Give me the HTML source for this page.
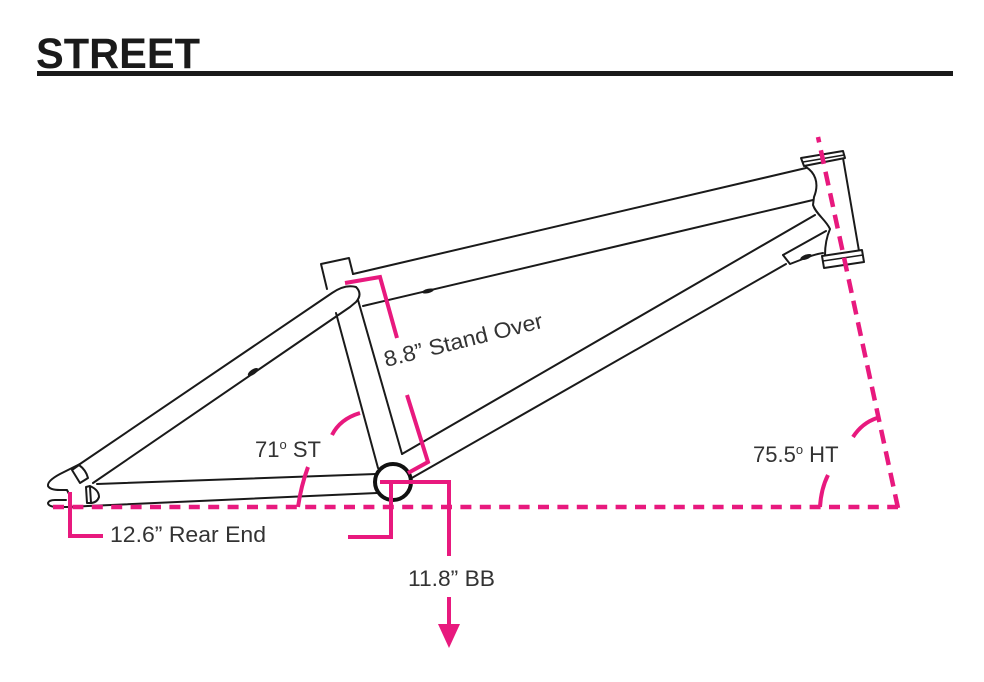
<!DOCTYPE html>
<html>
<head>
<meta charset="utf-8">
<style>
  html, body { margin: 0; padding: 0; background: #ffffff; }
  body { width: 984px; height: 682px; overflow: hidden; }
  svg { display: block; }
  text { font-family: "Liberation Sans", Arial, sans-serif; }
</style>
</head>
<body>
<svg width="984" height="682" viewBox="0 0 984 682" xmlns="http://www.w3.org/2000/svg">
  <rect x="0" y="0" width="984" height="682" fill="#ffffff"/>

  <!-- Title -->
  <text x="36" y="68" font-size="43" font-weight="bold" fill="#1a1a1a" textLength="164" lengthAdjust="spacingAndGlyphs">STREET</text>
  <rect x="37" y="71" width="916" height="5" fill="#1a1a1a"/>

  <!-- Frame (black) -->
  <g stroke="#1a1a1a" stroke-width="2" fill="none" stroke-linejoin="round" stroke-linecap="round">
    <!-- seat clamp box -->
    <path d="M 327 289 L 321 264 L 349 258 L 353 274"/>
    <!-- top tube -->
    <path d="M 353 274 L 806 168"/>
    <path d="M 363 306 L 813 200"/>
    <!-- seat stays -->
    <path d="M 77 466 L 332 293 Q 345 284 356 287 Q 363 294 356 302 L 350 307 L 93 483"/>
    <!-- seat tube -->
    <path d="M 336 313 L 378 468"/>
    <path d="M 358 300 L 402 454"/>
    <!-- down tube -->
    <path d="M 402 454 L 815 215"/>
    <path d="M 410 479 L 786 264"/>
    <!-- chain stays -->
    <path d="M 97 484 L 376 474"/>
    <path d="M 88 506 L 377 493"/>
    <!-- head tube edges -->
    <path d="M 806 167 C 814 172 820 182 814 197 L 813 205 C 816 214 826 220 830 229 C 827 236 825 245 825 255"/>
    <path d="M 843 158 L 859 251"/>
    <!-- gusset -->
    <path d="M 783 255 L 826 231"/>
    <path d="M 783 255 L 790 264 L 808 257 Q 816 254 823 253"/>
    <!-- rear dropout -->
    <path d="M 80 464 L 60 474 Q 47 481 48 486 Q 50 490 60 490 L 67 490 L 69 494"/>
    <path d="M 88 506 L 70 507 L 55 507 Q 48 506 48 503 Q 49 500 55 500 L 66 500"/>
    <path d="M 72 470 L 79 465 Q 86 470 88 478 L 80 483 Z"/>
    <path d="M 86 487 L 90 486 Q 99 490 99 497 Q 97 503 90 503 L 87 503 Z"/>
    <path d="M 90 487 L 91 503"/>
  </g>

  <!-- caps on head tube -->
  <g stroke="#1a1a1a" stroke-width="2" fill="#ffffff" stroke-linejoin="round">
    <polygon points="801,158 843,151 845,158 804,166"/>
    <polygon points="822,256 862,250 864,262 824,268"/>
  </g>
  <g stroke="#1a1a1a" stroke-width="1.5" fill="none">
    <path d="M 803 162 L 844 155"/>
    <path d="M 823 261 L 863 255"/>
  </g>

  <!-- cable guides -->
  <ellipse cx="253" cy="372" rx="6" ry="2.6" fill="#1a1a1a" transform="rotate(-34 253 372)"/>
  <ellipse cx="428" cy="291" rx="6" ry="2.2" fill="#1a1a1a" transform="rotate(-13 428 291)"/>
  <ellipse cx="806" cy="257" rx="6" ry="2.4" fill="#1a1a1a" transform="rotate(-20 806 257)"/>

  <!-- BB shell -->
  <circle cx="393" cy="482" r="18" fill="#ffffff" stroke="#111111" stroke-width="4"/>

  <!-- Magenta annotations -->
  <g stroke="#e8197e" fill="none" stroke-width="4.5">
    <path d="M 53 507 L 898 507" stroke-dasharray="11 8.4"/>
    <path d="M 898 508 L 818 137" stroke-dasharray="14 8"/>
  </g>
  <g stroke="#e8197e" fill="none" stroke-width="4" stroke-linejoin="miter">
    <!-- HT arcs -->
    <path d="M 828 475 Q 821 489 820 507"/>
    <path d="M 853 437 Q 862 423 877 418"/>
    <!-- ST arcs -->
    <path d="M 332 435 Q 340 419 360 413"/>
    <path d="M 308 467 Q 301 486 298 507"/>
    <!-- rear end bracket -->
    <path d="M 70 492 L 70 536 L 103 536"/>
    <path d="M 348 537 L 391 537 L 391 482"/>
    <!-- BB bracket -->
    <path d="M 380 482 L 449 482 L 449 556"/>
    <path d="M 449 597 L 449 627"/>
    <!-- stand over brackets -->
    <path d="M 345 283 L 380 277 L 397 338"/>
    <path d="M 407 395 L 428 462 L 408 473"/>
  </g>
  <polygon points="438,624 460,624 449,648" fill="#e8197e"/>

  <!-- Labels -->
  <g fill="#333333" font-size="22">
    <text x="110" y="542" textLength="156" lengthAdjust="spacingAndGlyphs">12.6” Rear End</text>
    <text x="408" y="586" textLength="87" lengthAdjust="spacingAndGlyphs">11.8” BB</text>
    <text x="255" y="457">71<tspan font-size="13" dy="-8">o</tspan><tspan dy="8"> ST</tspan></text>
    <text x="753" y="462">75.5<tspan font-size="13" dy="-8">o</tspan><tspan dy="8"> HT</tspan></text>
    <text x="386" y="367" transform="rotate(-14 386 367)" textLength="163" lengthAdjust="spacingAndGlyphs">8.8” Stand Over</text>
  </g>
</svg>
</body>
</html>
